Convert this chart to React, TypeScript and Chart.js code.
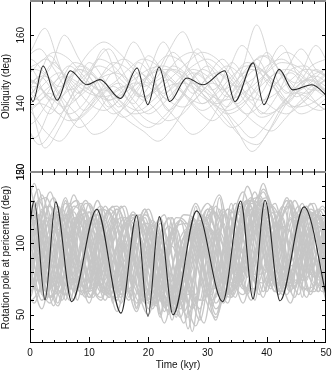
import React, { useEffect, useRef } from "react";
import { Chart, registerables } from "chart.js";

Chart.register(...registerables);

// ---------------- axes ----------------
const TIME_MIN = 0;
const TIME_MAX = 50;
const TIME_TICK_LABELS = [0, 10, 20, 30, 40, 50];
const OBL_MIN = 120;
const OBL_MAX = 170;
const OBL_TICK_LABELS = [120, 140, 160];
const ROT_MIN = 30;
const ROT_MAX = 150;
const ROT_TICK_LABELS = [50, 100, 150];
const X_TITLE = "Time (kyr)";
const OBL_TITLE = "Obliquity (deg)";
const ROT_TITLE = "Rotation pole at pericenter (deg)";

// ---------------- highlighted (black) runs ----------------
const OBL_BLACK_T = [-0.6, 0.5, 2.2, 4.6, 6.8, 9.6, 11.8, 15.3, 18.1, 19.9, 21.8, 23.6, 26.5, 29.2, 32.9, 34.6, 37.7, 39.5, 42.1, 44.4, 47.6, 50.6];
const OBL_BLACK_V = [146.5, 140.6, 151, 141, 149.6, 145.5, 147, 141.5, 150.4, 139.7, 150.7, 140.6, 147.5, 145.5, 149.6, 140.6, 151.9, 139.7, 150, 144, 145.5, 141.5];
const ROT_BLACK_T = [-1.1, 0.73, 2.53, 4.34, 7.04, 11.27, 15.37, 18.02, 19.93, 21.84, 24.16, 28.16, 32.55, 35.59, 37.67, 39.7, 42.23, 46.28, 50.3];
const ROT_BLACK_V = [62, 129.7, 60.3, 129, 59, 123.9, 51, 119.6, 48.6, 118.7, 49.8, 122.7, 59, 129.7, 61, 130.2, 59.6, 125.5, 58];

// ---------------- grey runs: obliquity ----------------
const OBL_T_A = [-2.5, 0, 2.5, 5, 7.5, 10, 12.5, 15, 17.5, 20, 22.5, 25, 27.5, 30, 32.5, 35, 37.5, 40, 42.5, 45, 47.5, 50];
const OBL_T_B = [-1.7, 0.8, 3.3, 5.8, 8.3, 10.8, 13.3, 15.8, 18.3, 20.8, 23.3, 25.8, 28.3, 30.8, 33.3, 35.8, 38.3, 40.8, 43.3, 45.8, 48.3, 50.8];
const OBL_T_C = [-0.9, 1.6, 4.1, 6.6, 9.1, 11.6, 14.1, 16.6, 19.1, 21.6, 24.1, 26.6, 29.1, 31.6, 34.1, 36.6, 39.1, 41.6, 44.1, 46.6, 49.1, 51.6];

const OBL_GREY_A = [
  [146, 149, 153, 150, 146, 143, 142, 144, 147, 150, 151, 149, 146, 143, 141, 142, 145, 149, 152, 151, 148, 145],
  [137, 134, 139, 146, 152, 150, 145, 140, 137, 138, 142, 147, 151, 153, 150, 145, 140, 137, 139, 143, 148, 150],
  [150, 155, 162, 151, 141, 148, 156, 146, 140, 149, 158, 150, 143, 148, 153, 147, 141, 150, 157, 149, 144, 147],
  [142, 138, 132, 129, 134, 140, 144, 141, 136, 133, 136, 141, 146, 144, 139, 134, 130, 134, 140, 143, 141, 138],
  [144, 147, 143, 137, 144, 152, 147, 139, 145, 154, 149, 141, 147, 151, 145, 140, 146, 155, 148, 142, 145, 149],
  [152, 153, 149, 145, 149, 155, 158, 155, 150, 146, 148, 153, 155, 152, 148, 145, 147, 151, 153, 150, 146, 144],
  [139, 141, 146, 149, 145, 140, 138, 141, 146, 145, 140, 135, 131, 134, 141, 147, 150, 147, 142, 139, 140, 143],
  [147, 143, 148, 142, 135, 138, 143, 146, 141, 137, 140, 145, 149, 146, 139, 132, 126, 131, 139, 145, 147, 144],
  [145, 140, 127, 133, 142, 145, 148, 150, 158, 151, 143, 146, 150, 148, 144, 147, 152, 154, 149, 146, 151, 153],
];
const OBL_GREY_B = [
  [151, 143, 137, 143, 150, 146, 139, 143, 152, 147, 138, 142, 149, 144, 139, 146, 153, 146, 140, 145, 150, 147],
  [138, 141, 145, 148, 146, 143, 141, 143, 146, 149, 150, 147, 143, 140, 138, 140, 144, 148, 150, 148, 144, 141],
  [146, 150, 147, 141, 136, 131, 133, 139, 145, 150, 154, 152, 147, 141, 137, 139, 145, 151, 155, 152, 146, 142],
  [141, 130, 138, 146, 150, 148, 144, 140, 138, 141, 145, 146, 144, 140, 135, 130, 128, 133, 140, 146, 148, 145],
  [149, 146, 154, 148, 143, 151, 156, 149, 142, 147, 155, 161, 152, 144, 149, 157, 151, 145, 150, 156, 150, 147],
  [143, 145, 142, 139, 142, 146, 150, 153, 150, 145, 141, 139, 142, 147, 151, 148, 143, 139, 137, 140, 145, 148],
  [136, 139, 143, 138, 133, 136, 142, 145, 143, 139, 135, 137, 142, 146, 143, 138, 134, 132, 136, 141, 144, 142],
  [155, 149, 141, 145, 151, 148, 140, 136, 139, 144, 147, 143, 138, 135, 139, 146, 150, 147, 141, 137, 139, 143],
  [144, 147, 150, 160, 153, 146, 141, 144, 149, 146, 141, 148, 156, 148, 142, 150, 163, 151, 143, 149, 157, 150],
];
const OBL_GREY_C = [
  [140, 146, 152, 145, 138, 143, 149, 147, 141, 145, 151, 148, 140, 144, 152, 146, 137, 142, 150, 151, 145, 141],
  [148, 145, 141, 144, 148, 151, 149, 145, 142, 144, 148, 152, 155, 153, 148, 143, 141, 143, 147, 150, 149, 146],
  [134, 128, 133, 141, 146, 144, 139, 135, 132, 129, 133, 140, 146, 149, 146, 140, 136, 138, 143, 147, 145, 140],
  [153, 156, 150, 144, 147, 153, 151, 146, 142, 145, 150, 148, 143, 140, 143, 149, 154, 151, 145, 143, 147, 151],
  [145, 141, 146, 151, 147, 141, 137, 140, 146, 150, 147, 142, 138, 141, 147, 152, 150, 144, 139, 141, 146, 149],
  [142, 148, 143, 137, 140, 147, 152, 150, 145, 148, 155, 150, 143, 137, 133, 136, 143, 149, 146, 140, 138, 142],
  [150, 152, 155, 153, 148, 144, 146, 150, 153, 151, 146, 142, 140, 143, 148, 151, 150, 146, 143, 145, 149, 152],
  [137, 140, 138, 135, 137, 142, 145, 141, 136, 134, 138, 145, 150, 147, 141, 137, 140, 146, 149, 144, 139, 137],
];

// ---------------- grey runs: rotation pole at pericenter ----------------
const ROT_T_A = [-2, 0, 2, 4, 6, 8, 10, 12, 14, 16, 18, 20, 22, 24, 26, 28, 30, 32, 34, 36, 38, 40, 42, 44, 46, 48, 50];
const ROT_T_B = [-1.3, 0.7, 2.7, 4.7, 6.7, 8.7, 10.7, 12.7, 14.7, 16.7, 18.7, 20.7, 22.7, 24.7, 26.7, 28.7, 30.7, 32.7, 34.7, 36.7, 38.7, 40.7, 42.7, 44.7, 46.7, 48.7, 50.7];
const ROT_T_C = [-0.6, 1.4, 3.4, 5.4, 7.4, 9.4, 11.4, 13.4, 15.4, 17.4, 19.4, 21.4, 23.4, 25.4, 27.4, 29.4, 31.4, 33.4, 35.4, 37.4, 39.4, 41.4, 43.4, 45.4, 47.4, 49.4, 51.4];

const ROT_GREY_A = [
  [70, 128, 64, 122, 60, 118, 66, 124, 58, 115, 55, 112, 50, 118, 62, 126, 68, 132, 64, 128, 60, 124, 66, 130, 62, 122, 68],
  [115, 92, 60, 85, 120, 96, 62, 88, 118, 94, 58, 84, 114, 90, 52, 82, 120, 98, 66, 92, 126, 100, 64, 90, 122, 96, 62],
  [95, 62, 108, 132, 100, 68, 110, 126, 96, 64, 104, 124, 92, 56, 100, 128, 102, 70, 112, 136, 104, 66, 108, 130, 98, 70, 110],
  [60, 110, 70, 118, 75, 112, 68, 106, 62, 100, 54, 96, 48, 104, 58, 112, 70, 124, 78, 120, 72, 116, 70, 118, 74, 112, 66],
  [125, 120, 96, 72, 64, 80, 104, 124, 118, 92, 66, 58, 74, 100, 120, 116, 90, 68, 62, 82, 108, 128, 120, 94, 70, 66, 86],
  [85, 72, 116, 66, 110, 60, 104, 70, 112, 64, 100, 54, 96, 46, 92, 60, 108, 72, 118, 74, 112, 70, 114, 66, 108, 72, 116],
  [102, 138, 84, 70, 118, 130, 90, 66, 112, 126, 86, 60, 106, 118, 78, 56, 110, 134, 94, 68, 120, 132, 88, 66, 116, 128, 90],
  [66, 82, 104, 120, 108, 84, 62, 76, 100, 118, 110, 86, 62, 56, 78, 104, 124, 118, 94, 70, 68, 90, 114, 126, 112, 88, 70],
  [118, 76, 124, 80, 130, 86, 122, 78, 114, 72, 108, 66, 104, 58, 96, 64, 112, 80, 128, 86, 126, 84, 122, 80, 118, 78, 120],
  [75, 100, 88, 56, 98, 106, 74, 60, 92, 102, 70, 50, 84, 98, 66, 42, 80, 108, 84, 58, 94, 112, 82, 58, 92, 104, 76],
  [110, 130, 112, 84, 92, 116, 122, 100, 80, 88, 110, 114, 92, 74, 82, 106, 118, 104, 86, 96, 118, 124, 106, 84, 94, 116, 108],
  [92, 60, 72, 104, 128, 110, 74, 62, 86, 116, 120, 90, 60, 52, 80, 112, 128, 108, 76, 64, 90, 118, 122, 96, 68, 70, 98],
  [58, 96, 134, 98, 64, 90, 128, 104, 70, 82, 114, 100, 68, 74, 104, 96, 64, 84, 122, 116, 78, 80, 112, 108, 74, 86, 118],
  [130, 84, 54, 96, 132, 88, 58, 100, 126, 82, 52, 92, 118, 76, 44, 88, 124, 96, 62, 104, 136, 98, 64, 100, 128, 90, 60],
];
const ROT_GREY_B = [
  [88, 142, 94, 58, 106, 120, 84, 64, 100, 114, 80, 62, 98, 110, 74, 54, 102, 124, 90, 66, 108, 126, 88, 62, 102, 120, 84],
  [62, 76, 110, 126, 100, 70, 68, 96, 124, 106, 72, 60, 86, 118, 112, 78, 60, 82, 116, 130, 106, 74, 72, 102, 124, 104, 76],
  [120, 68, 116, 72, 122, 74, 118, 66, 112, 62, 104, 56, 98, 48, 106, 60, 116, 72, 122, 76, 124, 70, 118, 68, 112, 66, 116],
  [104, 122, 82, 56, 90, 124, 110, 72, 60, 98, 118, 90, 56, 62, 100, 114, 82, 58, 96, 128, 112, 78, 66, 104, 126, 100, 70],
  [76, 58, 88, 120, 96, 64, 92, 126, 102, 68, 88, 116, 94, 60, 84, 120, 108, 72, 98, 140, 112, 74, 96, 130, 104, 70, 92],
  [96, 124, 132, 108, 80, 72, 94, 120, 126, 100, 74, 66, 86, 112, 114, 90, 68, 76, 104, 130, 128, 98, 74, 80, 108, 124, 110],
  [54, 94, 126, 90, 60, 98, 120, 86, 52, 90, 114, 80, 44, 84, 110, 92, 56, 96, 128, 102, 64, 100, 126, 94, 62, 98, 122],
  [112, 70, 100, 110, 78, 66, 102, 116, 84, 60, 94, 108, 72, 50, 90, 112, 84, 62, 104, 122, 90, 68, 106, 118, 82, 66, 100],
  [134, 104, 66, 84, 118, 128, 96, 64, 80, 112, 120, 88, 58, 70, 104, 116, 86, 60, 90, 126, 132, 100, 70, 86, 118, 122, 94],
  [82, 116, 74, 120, 78, 112, 70, 108, 66, 104, 60, 98, 52, 94, 40, 90, 64, 114, 76, 124, 82, 120, 78, 116, 74, 112, 80],
  [68, 88, 118, 104, 72, 80, 110, 116, 86, 66, 90, 112, 98, 70, 64, 94, 122, 110, 78, 84, 116, 126, 98, 72, 82, 112, 104],
  [126, 96, 62, 70, 104, 124, 102, 68, 62, 94, 118, 98, 64, 54, 88, 114, 100, 66, 68, 108, 134, 110, 74, 70, 100, 120, 96],
  [100, 84, 60, 104, 128, 80, 62, 108, 124, 78, 58, 102, 120, 72, 48, 98, 126, 84, 62, 110, 130, 86, 64, 108, 124, 82, 66],
  [72, 108, 96, 64, 92, 120, 88, 60, 94, 116, 82, 54, 90, 110, 74, 46, 92, 122, 90, 64, 100, 126, 94, 68, 104, 118, 86],
];
const ROT_GREY_C = [
  [114, 74, 58, 92, 126, 114, 78, 62, 90, 120, 108, 72, 56, 84, 116, 102, 68, 64, 98, 128, 118, 80, 64, 94, 124, 110, 76],
  [60, 104, 136, 102, 66, 98, 130, 96, 64, 94, 124, 88, 58, 86, 118, 84, 50, 92, 126, 100, 66, 102, 132, 98, 66, 96, 120],
  [90, 66, 82, 114, 122, 94, 70, 80, 108, 118, 90, 62, 74, 104, 112, 84, 54, 72, 108, 124, 102, 72, 80, 110, 120, 94, 72],
  [128, 112, 78, 66, 98, 128, 116, 82, 62, 92, 120, 106, 70, 54, 86, 114, 104, 72, 74, 108, 138, 118, 82, 72, 104, 126, 108],
  [78, 120, 70, 112, 66, 116, 72, 110, 64, 104, 58, 100, 50, 96, 38, 94, 62, 112, 76, 124, 80, 118, 76, 120, 78, 114, 70],
  [104, 90, 62, 84, 118, 106, 74, 68, 96, 122, 100, 66, 62, 90, 110, 94, 58, 80, 116, 132, 104, 70, 84, 116, 118, 90, 68],
  [66, 116, 126, 92, 60, 104, 124, 90, 58, 98, 118, 82, 52, 96, 114, 78, 46, 100, 128, 92, 62, 106, 130, 92, 64, 100, 124],
  [120, 86, 62, 74, 108, 130, 106, 72, 68, 100, 124, 94, 62, 60, 92, 118, 96, 64, 78, 112, 136, 108, 76, 74, 106, 124, 98],
  [86, 130, 108, 70, 76, 112, 120, 86, 64, 84, 114, 108, 72, 58, 82, 110, 104, 70, 82, 118, 128, 98, 70, 88, 120, 116, 84],
  [56, 82, 112, 124, 96, 66, 72, 104, 118, 92, 62, 58, 90, 116, 100, 64, 48, 80, 112, 120, 92, 66, 78, 110, 122, 98, 70],
  [122, 104, 68, 96, 134, 100, 64, 94, 126, 92, 60, 88, 118, 80, 54, 90, 126, 98, 70, 104, 142, 104, 70, 96, 128, 96, 66],
  [94, 66, 98, 120, 84, 62, 100, 122, 86, 60, 92, 114, 78, 48, 88, 112, 80, 58, 100, 130, 94, 66, 104, 126, 90, 66, 98],
  [74, 100, 126, 108, 74, 70, 98, 124, 110, 76, 64, 90, 112, 94, 62, 60, 94, 124, 112, 80, 72, 100, 126, 112, 80, 74, 100],
  [108, 138, 90, 60, 96, 122, 86, 62, 104, 120, 80, 56, 100, 116, 72, 44, 98, 124, 86, 60, 108, 128, 90, 64, 106, 118, 82],
];

// ---------------- styling ----------------
const BLACK = "#262626";
const GREY_TOP = "#d3d3d3";
const GREY_BOT = "#c6c6c6";
const FONT = '10px "Liberation Sans", Arial, Helvetica, sans-serif';

function pts(ts: number[], vs: number[]) {
  const n = Math.min(ts.length, vs.length);
  const out: { x: number; y: number }[] = [];
  for (let i = 0; i < n; i++) out.push({ x: ts[i], y: vs[i] });
  return out;
}

function lineDs(data: any, axis: string, color: string, width: number, order: number) {
  return {
    data,
    yAxisID: axis,
    borderColor: color,
    borderWidth: width,
    pointRadius: 0,
    fill: false,
    cubicInterpolationMode: "monotone",
    order,
  };
}

const framePlugin = {
  id: "frameTicks",
  afterDatasetsDraw(chart: any) {
    const { ctx, chartArea } = chart;
    const xs = chart.scales.x;
    const yt = chart.scales.yTop;
    const yb = chart.scales.yBot;
    const L = Math.round(chartArea.left);
    const R = Math.round(chartArea.right);
    const top = yt.top;
    const mid = yt.bottom;
    const bot = yb.bottom;
    ctx.save();
    // frame
    ctx.strokeStyle = "#000";
    ctx.lineWidth = 1;
    ctx.beginPath();
    ctx.moveTo(L + 0.5, top);
    ctx.lineTo(L + 0.5, bot);
    ctx.moveTo(R - 0.5, top);
    ctx.lineTo(R - 0.5, bot);
    ctx.moveTo(L, bot - 0.5);
    ctx.lineTo(R, bot - 0.5);
    ctx.stroke();
    ctx.strokeStyle = "#8c8c8c";
    ctx.lineWidth = 2;
    ctx.beginPath();
    ctx.moveTo(L, top + 0);
    ctx.lineTo(R, top + 0);
    ctx.moveTo(L, mid);
    ctx.lineTo(R, mid);
    ctx.stroke();

    // x ticks
    ctx.strokeStyle = "#000";
    ctx.lineWidth = 1;
    ctx.beginPath();
    for (let t = TIME_MIN + 2; t < TIME_MAX; t += 2) {
      const major = t % 10 === 0;
      const len = major ? 6 : 3;
      const px = Math.round(xs.getPixelForValue(t)) + 0.5;
      ctx.moveTo(px, top);
      ctx.lineTo(px, top + len);
      ctx.moveTo(px, mid - len);
      ctx.lineTo(px, mid + len);
      ctx.moveTo(px, bot);
      ctx.lineTo(px, bot - len);
    }
    // y ticks
    for (let v = OBL_MIN + 10; v < OBL_MAX; v += 10) {
      const py = Math.round(yt.getPixelForValue(v)) + 0.5;
      ctx.moveTo(L, py);
      ctx.lineTo(L + 4, py);
      ctx.moveTo(R, py);
      ctx.lineTo(R - 4, py);
    }
    for (let v = ROT_MIN + 10; v < ROT_MAX; v += 10) {
      const py = Math.round(yb.getPixelForValue(v)) + 0.5;
      ctx.moveTo(L, py);
      ctx.lineTo(L + 4, py);
      ctx.moveTo(R, py);
      ctx.lineTo(R - 4, py);
    }
    ctx.stroke();

    // labels
    ctx.fillStyle = "#111";
    ctx.font = FONT;
    ctx.textAlign = "center";
    ctx.textBaseline = "middle";
    for (const t of TIME_TICK_LABELS) {
      ctx.fillText(String(t), xs.getPixelForValue(t), bot + 10);
    }
    ctx.fillText(X_TITLE, (L + R) / 2, bot + 22);

    const vText = (txt: string, x: number, y: number) => {
      ctx.save();
      ctx.translate(x, y);
      ctx.rotate(-Math.PI / 2);
      ctx.fillText(txt, 0, 0);
      ctx.restore();
    };
    for (const v of OBL_TICK_LABELS) vText(String(v), 21, yt.getPixelForValue(v));
    for (const v of ROT_TICK_LABELS) vText(String(v), 21, yb.getPixelForValue(v));
    vText(OBL_TITLE, 6, (top + mid) / 2);
    vText(ROT_TITLE, 6, (mid + bot) / 2);
    ctx.restore();
  },
};

export default function App() {
  const ref = useRef<HTMLCanvasElement | null>(null);
  useEffect(() => {
    const canvas = ref.current;
    if (!canvas) return;
    const datasets: any[] = [];
    datasets.push(lineDs(pts(OBL_BLACK_T, OBL_BLACK_V), "yTop", BLACK, 1.1, 0));
    datasets.push(lineDs(pts(ROT_BLACK_T, ROT_BLACK_V), "yBot", BLACK, 1.1, 0));
    OBL_GREY_A.forEach((v) => datasets.push(lineDs(pts(OBL_T_A, v), "yTop", GREY_TOP, 0.9, 1)));
    OBL_GREY_B.forEach((v) => datasets.push(lineDs(pts(OBL_T_B, v), "yTop", GREY_TOP, 0.9, 1)));
    OBL_GREY_C.forEach((v) => datasets.push(lineDs(pts(OBL_T_C, v), "yTop", GREY_TOP, 0.9, 1)));
    ROT_GREY_A.forEach((v) => datasets.push(lineDs(pts(ROT_T_A, v), "yBot", GREY_BOT, 1.3, 1)));
    ROT_GREY_B.forEach((v) => datasets.push(lineDs(pts(ROT_T_B, v), "yBot", GREY_BOT, 1.3, 1)));
    ROT_GREY_C.forEach((v) => datasets.push(lineDs(pts(ROT_T_C, v), "yBot", GREY_BOT, 1.3, 1)));

    const hidden = {
      grid: { display: false, drawTicks: false },
      border: { display: false },
      ticks: { display: false },
    };
    const chart = new Chart(canvas, {
      type: "line",
      data: { datasets },
      options: {
        animation: false,
        responsive: false,
        maintainAspectRatio: false,
        events: [],
        layout: { padding: { left: 30, right: 6, top: 1, bottom: 27 } },
        plugins: { legend: { display: false }, tooltip: { enabled: false } },
        scales: {
          x: { type: "linear", min: TIME_MIN, max: TIME_MAX, ...hidden },
          yBot: { type: "linear", position: "left", stack: "panels", stackWeight: 1, min: ROT_MIN, max: ROT_MAX, ...hidden },
          yTop: { type: "linear", position: "left", stack: "panels", stackWeight: 1, min: OBL_MIN, max: OBL_MAX, ...hidden },
        },
      } as any,
      plugins: [framePlugin],
    });
    return () => chart.destroy();
  }, []);
  return (
    <div style={{ position: "fixed", left: 0, top: 0, width: 332, height: 370, background: "#fff" }}>
      <canvas ref={ref} width={332} height={370} style={{ display: "block" }} />
    </div>
  );
}
